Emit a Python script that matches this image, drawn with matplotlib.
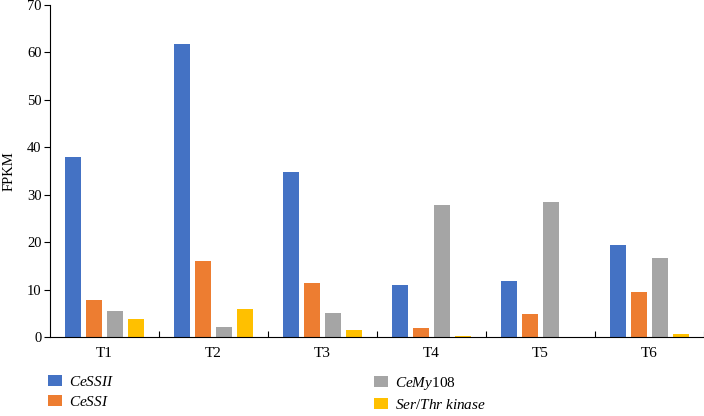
import matplotlib
matplotlib.use("Agg")
import matplotlib.pyplot as plt
import numpy as np
from matplotlib.patches import Patch

categories = ["T1", "T2", "T3", "T4", "T5", "T6"]
series_names = ["CeSSII", "CeSSI", "CeMy108", "Ser/Thr kinase"]
cessii = [38.0, 61.7, 34.7, 11.0, 11.9, 19.4]
cessi = [7.8, 16.1, 11.4, 2.0, 4.8, 9.5]
cemy108 = [5.5, 2.1, 5.1, 27.8, 28.4, 16.7]
serthr = [3.7, 5.9, 1.5, 0.2, 0.0, 0.6]
yticks = [0, 10, 20, 30, 40, 50, 60, 70]

colors = ["#4472C4", "#ED7D31", "#A5A5A5", "#FFC000"]
legend_labels = [r"$\it{CeSSII}$", r"$\it{CeSSI}$", r"$\it{CeMy}$108", r"$\it{Ser/Thr\ kinase}$"]

plt.rcParams["font.family"] = ["Liberation Serif", "DejaVu Serif"]
plt.rcParams["mathtext.fontset"] = "custom"
plt.rcParams["mathtext.it"] = "Liberation Serif:italic"
plt.rcParams["mathtext.rm"] = "Liberation Serif"

fig = plt.figure(figsize=(7.04, 4.16), dpi=100)
ax = fig.add_axes([50/704, 1-337/416, 654/704, 332/416])

x = np.arange(len(categories))
pitch = 0.193
width = 0.14
data = [cessii, cessi, cemy108, serthr]
for i, (vals, c) in enumerate(zip(data, colors)):
    ax.bar(x + (i - 1.5) * pitch, vals, width=width, color=c, edgecolor="none", zorder=2)

ax.set_xlim(-0.5, 5.5)
ax.set_ylim(0, 70)
ax.set_yticks(yticks)
ax.set_xticks(x)
ax.set_xticklabels(categories, fontsize=11)
ax.set_xticks(np.arange(0.5, 5.6, 1.0), minor=True)
ax.tick_params(axis="x", which="major", length=0, pad=7)
ax.tick_params(axis="x", which="minor", length=4, direction="in", width=0.8)
ax.tick_params(axis="y", length=4, direction="out", width=0.8, labelsize=10.5, pad=2)
for s in ["top", "right"]:
    ax.spines[s].set_visible(False)
ax.spines["left"].set_linewidth(0.8)
ax.spines["bottom"].set_linewidth(0.8)
ax.set_ylabel("FPKM", fontsize=10.5, labelpad=8)

handles = [Patch(facecolor=c, edgecolor="none") for c in colors]
kw = dict(frameon=False, fontsize=11, handlelength=0.9, handleheight=0.75,
          handletextpad=0.45, labelspacing=0.4, borderpad=0, borderaxespad=0)
leg1 = fig.legend(handles[:2], legend_labels[:2], loc="upper left",
                  bbox_to_anchor=(48/704, 1-375/416), **kw)
leg2 = fig.legend(handles[2:], legend_labels[2:], loc="upper left",
                  bbox_to_anchor=(374/704, 1-375/416), **kw)

fig.savefig("out.png", dpi=100)
